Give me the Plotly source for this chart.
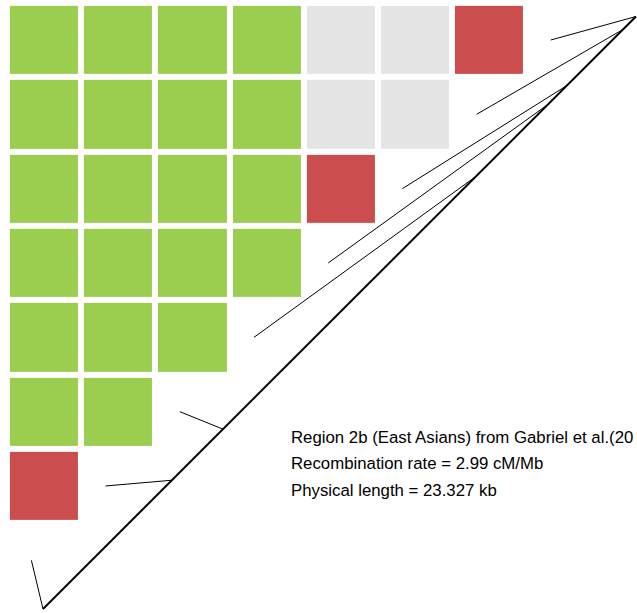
import plotly.graph_objects as go

# ---------------- data ----------------
snp_positions_kb = [0.0, 5.07, 7.08, 17.03, 19.87, 20.61, 22.82, 23.327]
physical_length_kb = 23.327
recombination_rate_cm_mb = 2.99
region_label = "Region 2b (East Asians) from Gabriel et al.(20"

# LD class of each pairwise cell, one list per row of the triangle
# 0 = strong LD (green), 1 = uninformative (grey), 2 = recombination (red)
ld_class_rows = [
    [0, 0, 0, 0, 1, 1, 2],
    [0, 0, 0, 0, 1, 1],
    [0, 0, 0, 0, 2],
    [0, 0, 0, 0],
    [0, 0, 0],
    [0, 0],
    [2],
]
class_colors = ["#9BCD4E", "#E5E5E5", "#CC4D4D"]

# ---------------- layout geometry ----------------
W, H = 637, 613
n_cells = len(ld_class_rows)
x_range = [-0.5930, 7.9919]
y_range = [7.7089, -0.5381]
diag_start = (-0.0135, 7.655)
diag_end = (7.978, -0.316)
label_offset = 0.17

z = [row + [None] * (n_cells - len(row)) for row in ld_class_rows]
colorscale = [
    [0.0, class_colors[0]], [1 / 3, class_colors[0]],
    [1 / 3, class_colors[1]], [2 / 3, class_colors[1]],
    [2 / 3, class_colors[2]], [1.0, class_colors[2]],
]

fig = go.Figure()
fig.add_trace(go.Heatmap(
    z=z, x=list(range(n_cells)), y=list(range(n_cells)),
    zmin=0, zmax=2, colorscale=colorscale, showscale=False,
    xgap=6, ygap=6, hoverinfo="skip",
))

# diagonal (physical map)
fig.add_trace(go.Scatter(
    x=[diag_start[0], diag_end[0]], y=[diag_start[1], diag_end[1]],
    mode="lines", line=dict(color="black", width=2), hoverinfo="skip",
    showlegend=False,
))

# connector lines SNP position -> grid
lx, ly = [], []
n_snps = len(snp_positions_kb)
for k, pos in enumerate(snp_positions_kb):
    f = pos / physical_length_kb
    px = diag_start[0] + f * (diag_end[0] - diag_start[0])
    py = diag_start[1] + f * (diag_end[1] - diag_start[1])
    gx = k - label_offset
    gy = (n_snps - 1) - k
    lx += [px, gx, None]
    ly += [py, gy, None]
fig.add_trace(go.Scatter(
    x=lx, y=ly, mode="lines", line=dict(color="black", width=1),
    hoverinfo="skip", showlegend=False,
))

texts = [
    region_label,
    f"Recombination rate = {recombination_rate_cm_mb:.2f} cM/Mb",
    f"Physical length = {physical_length_kb:.3f} kb",
]
text_y_px = [437, 463.5, 490.5]
for t, ypx in zip(texts, text_y_px):
    fig.add_annotation(
        x=289 / W, y=1 - ypx / H, xref="paper", yref="paper",
        xanchor="left", yanchor="middle", text=t, showarrow=False,
        font=dict(family="Liberation Sans, Arial, sans-serif", size=16.8, color="black"),
    )

fig.update_layout(
    width=W, height=H, margin=dict(l=0, r=0, t=0, b=0),
    paper_bgcolor="white", plot_bgcolor="white", showlegend=False,
    xaxis=dict(range=x_range, visible=False, fixedrange=True),
    yaxis=dict(range=y_range, visible=False, fixedrange=True),
)
fig.write_html(
    "out.html",
    config={"displayModeBar": False},
    post_script="document.body.style.margin='0px';document.body.style.overflow='hidden';",
)
